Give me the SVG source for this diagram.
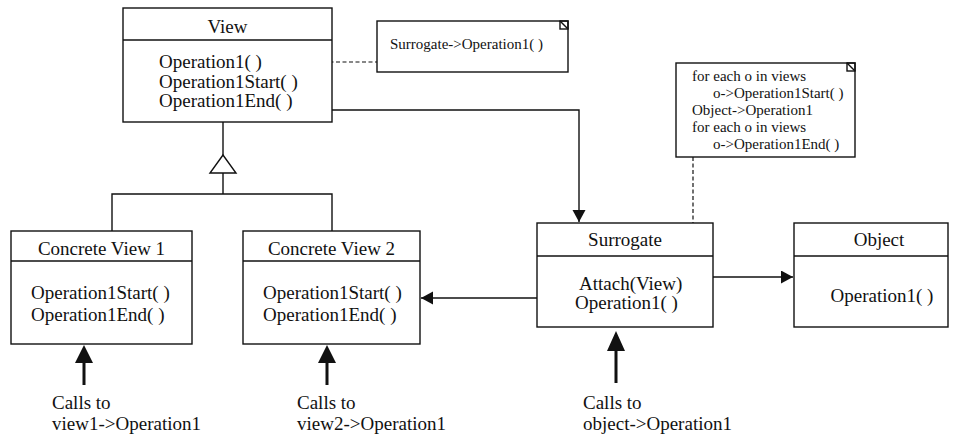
<svg xmlns="http://www.w3.org/2000/svg" width="960" height="435" viewBox="0 0 960 435">
<defs>
<marker id="ah" markerWidth="14" markerHeight="14" refX="12" refY="6.5" orient="auto" markerUnits="userSpaceOnUse">
<path d="M0,0 L12,6.5 L0,13 Z" fill="#111"/>
</marker>
</defs>
<style>
.box{fill:#fff;stroke:#111;stroke-width:1.4}
.ln{fill:none;stroke:#111;stroke-width:1.4}
.dash{fill:none;stroke:#111;stroke-width:1.2;stroke-dasharray:4,2.5}
.t{font-family:"Liberation Serif","Times New Roman",serif;font-size:19px;fill:#111}
.c{text-anchor:middle}
.n{font-family:"Liberation Serif","Times New Roman",serif;font-size:15px;fill:#111}
.big{fill:#111;stroke:none}
</style>
<rect width="960" height="435" fill="#fff"/>

<g id="connectors">
<path class="ln" d="M223,122 V155"/>
<path class="box" d="M223,155 L210,173 L236,173 Z"/>
<path class="ln" d="M223,173 V194 M112,231 V194 H332 V231"/>
<path class="ln" d="M332,110 H579 V222" marker-end="url(#ah)"/>
<path class="ln" d="M537,298 H421" marker-end="url(#ah)"/>
<path class="ln" d="M713,277 H793" marker-end="url(#ah)"/>
<path class="dash" d="M284,62 H377"/>
<circle cx="281" cy="62" r="2.5" fill="#fff" stroke="#111" stroke-width="1.1"/>
<path class="dash" d="M693,157 V302"/>
<circle cx="693" cy="305" r="2.5" fill="#fff" stroke="#111" stroke-width="1.1"/>
<path class="big" d="M82.5,385 V363 H75 L84,345 L93,363 H85.5 V385 Z"/>
<path class="big" d="M325.5,385 V363 H318 L327,345 L336,363 H328.5 V385 Z"/>
<path class="big" d="M614.5,383 V351 H607 L616,331 L625,351 H617.5 V383 Z"/>
</g>

<g id="view">
<rect class="box" x="123" y="8" width="209" height="114"/>
<line class="ln" x1="123" y1="40" x2="332" y2="40"/>
<text class="t c" x="227.5" y="33">View</text>
<text class="t" x="159" y="68">Operation1( )</text>
<text class="t" x="159" y="88">Operation1Start( )</text>
<text class="t" x="159" y="107">Operation1End( )</text>
</g>

<g id="note1">
<rect class="box" x="377" y="21" width="191" height="51"/>
<rect class="ln" x="560" y="21" width="8" height="8"/>
<line class="ln" x1="560" y1="21" x2="568" y2="29"/>
<text class="n" x="390" y="49">Surrogate-&gt;Operation1( )</text>
</g>

<g id="note2">
<rect class="box" x="676" y="63" width="179" height="94"/>
<rect class="ln" x="847" y="63" width="8" height="8"/>
<line class="ln" x1="847" y1="63" x2="855" y2="71"/>
<text class="n" x="692" y="81">for each o in views</text>
<text class="n" x="713" y="98">o-&gt;Operation1Start( )</text>
<text class="n" x="692" y="115">Object-&gt;Operation1</text>
<text class="n" x="692" y="132">for each o in views</text>
<text class="n" x="713" y="149">o-&gt;Operation1End( )</text>
</g>

<g id="concrete-view-1">
<rect class="box" x="11" y="231" width="181" height="113"/>
<line class="ln" x1="11" y1="261" x2="192" y2="261"/>
<text class="t c" x="101.5" y="255">Concrete View 1</text>
<text class="t" x="31" y="299">Operation1Start( )</text>
<text class="t" x="31" y="321">Operation1End( )</text>
</g>

<g id="concrete-view-2">
<rect class="box" x="243" y="231" width="177" height="113"/>
<line class="ln" x1="243" y1="261" x2="420" y2="261"/>
<text class="t c" x="331.5" y="255">Concrete View 2</text>
<text class="t" x="263" y="299">Operation1Start( )</text>
<text class="t" x="263" y="321">Operation1End( )</text>
</g>

<g id="surrogate">
<rect class="box" x="537" y="223" width="176" height="104"/>
<line class="ln" x1="537" y1="256" x2="713" y2="256"/>
<text class="t c" x="625" y="246">Surrogate</text>
<text class="t" x="579" y="290">Attach(View)</text>
<text class="t" x="575" y="309">Operation1( )</text>
</g>

<g id="object">
<rect class="box" x="794" y="223" width="154" height="104"/>
<line class="ln" x1="794" y1="256" x2="948" y2="256"/>
<text class="t c" x="879" y="246">Object</text>
<text class="t c" x="882" y="302">Operation1( )</text>
</g>

<g id="labels">
<text class="t" x="52" y="409">Calls to</text>
<text class="t" x="52" y="430">view1-&gt;Operation1</text>
<text class="t" x="297" y="409">Calls to</text>
<text class="t" x="297" y="430">view2-&gt;Operation1</text>
<text class="t" x="583" y="409">Calls to</text>
<text class="t" x="583" y="430">object-&gt;Operation1</text>
</g>
</svg>
